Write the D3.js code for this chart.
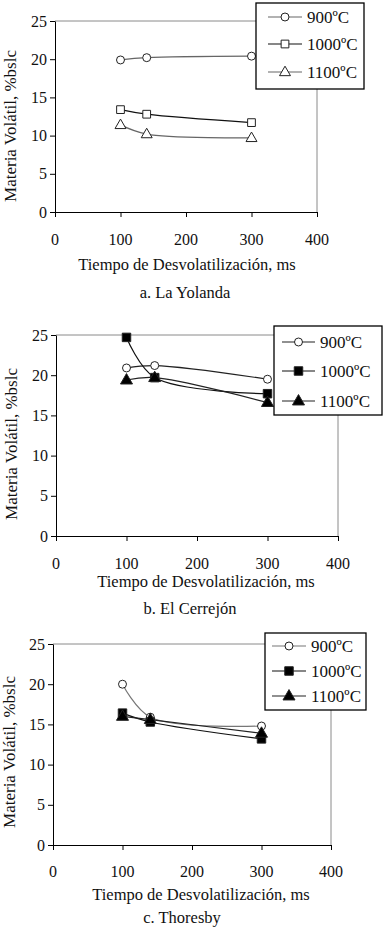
<!DOCTYPE html>
<html>
<head>
<meta charset="utf-8">
<script src="https://cdn.jsdelivr.net/npm/d3@7"></script>
<style>
  body { margin: 0; background: #fff; }
  svg text { font-family: "Liberation Serif", "Times New Roman", serif; fill: #111; }
</style>
</head>
<body>
<div id="chart"></div>
<script>
(function () {
    // data
    const tiempos = [100, 140, 300];
    const temperaturas = ["900ºC", "1000ºC", "1100ºC"];
    const xTicks = [0, 100, 200, 300, 400];
    const yTicks = [0, 5, 10, 15, 20, 25];

    const yolanda900 = [19.9, 20.2, 20.4];
    const yolanda1000 = [13.4, 12.8, 11.7];
    const yolanda1100 = [11.4, 10.2, 9.7];

    const cerrejon900 = [20.9, 21.2, 19.5];
    const cerrejon1000 = [24.7, 19.7, 17.7];
    const cerrejon1100 = [19.4, 19.7, 16.6];

    const thoresby900 = [20.0, 15.9, 14.8];
    const thoresby1000 = [16.4, 15.3, 13.2];
    const thoresby1100 = [16.0, 15.6, 13.9];

    const captions = ["a. La Yolanda", "b. El Cerrejón", "c. Thoresby"];

    // panel layout in page pixels
    const panels = [
        { box: [55, 317, 21, 212], tickY: 244.5, titleX: 187, titleY: 269.5, capX: 185, capY: 297.5,
          yTitleX: 16, yTitleY: 126,
          legend: [256, 364, 3, 89], legRows: [17, 44, 72], legLine: [12, 46], legText: 51,
          series: [yolanda900, yolanda1000, yolanda1100], filled: false,
          strokes: ["#666", "#111", "#666"] },
        { box: [56, 338, 335, 536], tickY: 568.5, titleX: 206, titleY: 587, capX: 190, capY: 613.5,
          yTitleX: 17, yTitleY: 444,
          legend: [274, 382, 326, 415], legRows: [342, 371, 401], legLine: [8, 41], legText: 46,
          series: [cerrejon900, cerrejon1000, cerrejon1100], filled: true,
          strokes: ["#222", "#111", "#222"] },
        { box: [53, 331, 644, 845], tickY: 877, titleX: 201, titleY: 899.5, capX: 182, capY: 923,
          yTitleX: 15, yTitleY: 752,
          legend: [265, 366, 633, 710], legRows: [646, 671, 696], legLine: [7, 41], legText: 46,
          series: [thoresby900, thoresby1000, thoresby1100], filled: true,
          strokes: ["#777", "#111", "#222"] }
    ];

    const svg = d3.select("#chart").append("svg")
        .attr("width", 387)
        .attr("height", 931);

    const symbols = [d3.symbolCircle, d3.symbolSquare, d3.symbolTriangle];
    const symSizes = [50, 60, 52];

    function marker(g, i, x, y, filled) {
        const open = (i === 0) || !filled;
        g.append("path")
            .attr("d", d3.symbol().type(symbols[i]).size(filled && i > 0 ? symSizes[i] * 1.2 : symSizes[i])())
            .attr("transform", `translate(${x},${y + (i === 2 ? 0.5 : 0)})`)
            .attr("fill", open ? "#fff" : "#000")
            .attr("stroke", "#222")
            .attr("stroke-width", 1);
    }

    panels.forEach((p, k) => {
        const [x0, x1, y0, y1] = p.box;
        const g = svg.append("g");

        const x = d3.scaleLinear().domain([0, 400]).range([x0, x1]);
        const y = d3.scaleLinear().domain([0, 25]).range([y1, y0]);

        // plot area border (top and right)
        g.append("path")
            .attr("d", `M${x0},${y0}H${x1}V${y1}`)
            .attr("fill", "none")
            .attr("stroke", "#8a8a8a")
            .attr("stroke-width", 1);

        // axes
        const xAxis = g.append("g")
            .attr("transform", `translate(0,${y1})`)
            .call(d3.axisBottom(x).tickValues(xTicks).tickSize(5).tickSizeOuter(0));
        xAxis.selectAll("text").remove();
        xAxis.selectAll("line,path").attr("stroke", "#000");

        g.selectAll(".xt").data(xTicks).enter().append("text")
            .attr("x", d => x(d))
            .attr("y", p.tickY)
            .attr("text-anchor", "middle")
            .style("font-size", "16px")
            .text(d => d);

        const yAxis = g.append("g")
            .attr("transform", `translate(${x0},0)`)
            .call(d3.axisLeft(y).tickValues(yTicks).tickSize(5).tickSizeOuter(0));
        yAxis.selectAll("text").remove();
        yAxis.selectAll("line,path").attr("stroke", "#000");

        g.selectAll(".yt").data(yTicks).enter().append("text")
            .attr("x", x0 - 8)
            .attr("y", d => y(d) + 5.5)
            .attr("text-anchor", "end")
            .style("font-size", "16px")
            .text(d => d);

        g.append("text")
            .attr("x", p.titleX)
            .attr("y", p.titleY)
            .attr("text-anchor", "middle")
            .style("font-size", "16.5px")
            .text("Tiempo de Desvolatilización, ms");

        g.append("text")
            .attr("transform", `translate(${p.yTitleX},${p.yTitleY}) rotate(-90)`)
            .attr("text-anchor", "middle")
            .style("font-size", "16px")
            .attr("textLength", 152)
            .attr("lengthAdjust", "spacingAndGlyphs")
            .text("Materia Volátil, %bslc");

        g.append("text")
            .attr("x", p.capX)
            .attr("y", p.capY)
            .attr("text-anchor", "middle")
            .style("font-size", "16.5px")
            .text(captions[k]);

        // series
        const line = d3.line()
            .x(d => x(d[0]))
            .y(d => y(d[1]))
            .curve(d3.curveCatmullRom.alpha(0.5));

        p.series.forEach((vals, i) => {
            const pts = tiempos.map((t, j) => [t, vals[j]]);
            g.append("path")
                .attr("d", line(pts))
                .attr("fill", "none")
                .attr("stroke", p.strokes[i])
                .attr("stroke-width", 1.2);
        });
        p.series.forEach((vals, i) => {
            tiempos.forEach((t, j) => marker(g, i, x(t), y(vals[j]), p.filled));
        });

        // legend
        const [lx0, lx1, ly0, ly1] = p.legend;
        g.append("rect")
            .attr("x", lx0).attr("y", ly0)
            .attr("width", lx1 - lx0).attr("height", ly1 - ly0)
            .attr("fill", "#fff")
            .attr("stroke", "#000")
            .attr("stroke-width", 1.3);

        temperaturas.forEach((name, i) => {
            const ry = p.legRows[i];
            g.append("line")
                .attr("x1", lx0 + p.legLine[0]).attr("x2", lx0 + p.legLine[1])
                .attr("y1", ry).attr("y2", ry)
                .attr("stroke", p.strokes[i])
                .attr("stroke-width", 1.2);
            marker(g, i, lx0 + (p.legLine[0] + p.legLine[1]) / 2, ry, p.filled);
            g.append("text")
                .attr("x", lx0 + p.legText)
                .attr("y", ry + 6)
                .style("font-size", "17px")
                .text(name);
        });
    });
})();
</script>
</body>
</html>
